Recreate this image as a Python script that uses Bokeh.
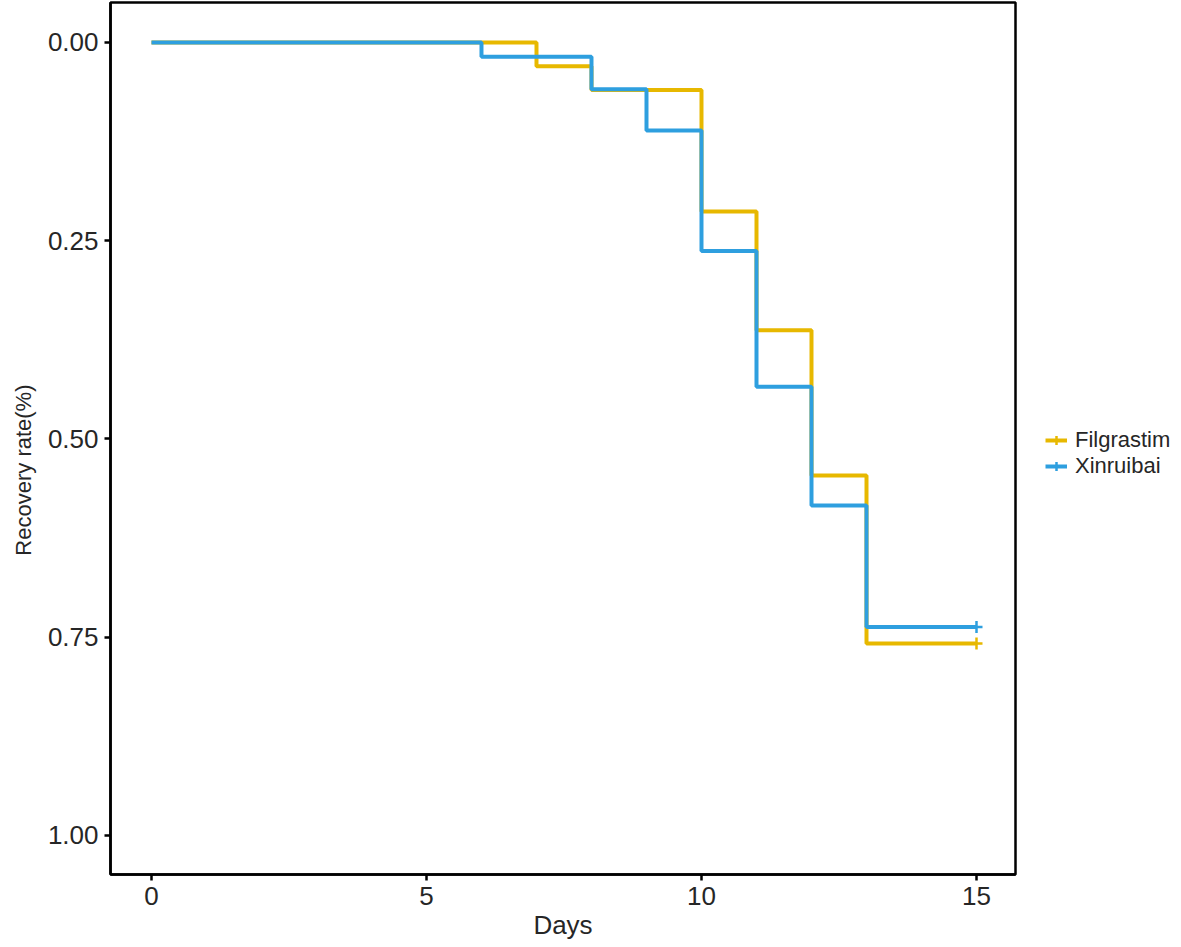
from bokeh.plotting import figure
from bokeh.models import Range1d, Legend, LegendItem, FixedTicker, NumeralTickFormatter, Title
from bokeh.embed import file_html
from bokeh.resources import INLINE

# ---- data ----
groups = ["Filgrastim", "Xinruibai"]
colors = ["#E7B800", "#2E9FDF"]
fil_days = [0, 7, 8, 10, 11, 12, 13, 15]
fil_rate = [0.0, 0.030, 0.060, 0.213, 0.363, 0.546, 0.758, 0.758]
xin_days = [0, 6, 8, 9, 10, 11, 12, 13, 15]
xin_rate = [0.0, 0.018, 0.059, 0.111, 0.263, 0.434, 0.584, 0.737, 0.737]
x_ticks = [0, 5, 10, 15]
y_ticks = [0.0, 0.25, 0.50, 0.75, 1.0]

FONT = "Liberation Sans"
TXT = "#262626"

p = figure(
    frame_width=905, frame_height=872,
    x_range=Range1d(-0.745, 15.709),
    y_range=Range1d(1.0492, -0.0504),
    output_backend="svg", toolbar_location=None,
    min_border_left=102, min_border_top=2, min_border_bottom=65, min_border_right=158,
    background_fill_color="white", border_fill_color="white",
)
p.grid.visible = False
p.outline_line_color = "black"
p.outline_line_width = 2.5

series = [(fil_days, fil_rate), (xin_days, xin_rate)]
items = []
for (d, r), name, col in zip(series, groups, colors):
    ln = p.step(d, r, mode="after", line_color=col, line_width=4)
    cs = p.scatter([d[-1]], [r[-1]], marker="cross", size=12, line_color=col, line_width=2.5)
    items.append(LegendItem(label=name, renderers=[ln, cs]))

for ax in (p.xaxis[0], p.yaxis[0]):
    ax.axis_line_color = "black"
    ax.axis_line_width = 2.5
    ax.major_tick_line_color = "black"
    ax.major_tick_line_width = 2.5
    ax.major_tick_out = 6
    ax.major_tick_in = 0
    ax.minor_tick_line_color = None
    ax.major_label_text_font = FONT
    ax.major_label_text_font_size = "26px"
    ax.major_label_text_color = TXT
    ax.major_label_standoff = 6
    ax.axis_label_text_font = FONT
    ax.axis_label_text_font_style = "normal"
    ax.axis_label_text_color = TXT

p.xaxis.ticker = FixedTicker(ticks=x_ticks)
p.yaxis.ticker = FixedTicker(ticks=y_ticks)
p.yaxis.formatter = NumeralTickFormatter(format="0.00")
p.xaxis.major_label_standoff = 6
p.xaxis.axis_label = "Days"
p.xaxis.axis_label_text_font_size = "26px"
p.xaxis.axis_label_standoff = 2

# y-axis title, placed like the reference (slightly below the frame centre)
ytitle = Title(text="Recovery rate(%)", align="right", offset=382, standoff=17,
               text_font=FONT, text_font_size="22px", text_font_style="normal",
               text_color=TXT)
p.add_layout(ytitle, "left")

legend = Legend(items=items, location=(30, 395), margin=0, padding=0, spacing=0,
                border_line_color=None, background_fill_alpha=0,
                label_text_font=FONT, label_text_font_size="22px", label_text_color=TXT,
                glyph_width=22, glyph_height=26, label_standoff=8, label_height=26)
p.add_layout(legend, "right")

open("out.html", "w").write(file_html(p, INLINE))
